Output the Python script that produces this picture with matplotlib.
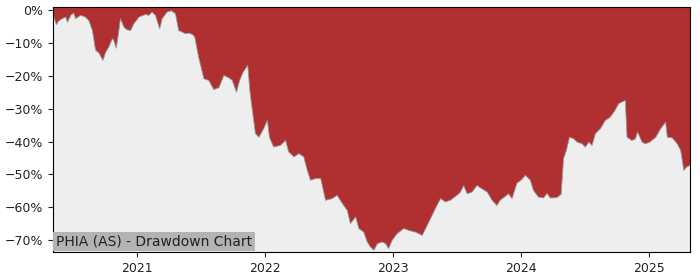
import pandas as pd
import numpy as np
import matplotlib
matplotlib.use("Agg")
import matplotlib.pyplot as plt
import matplotlib.dates as mdates
from matplotlib.ticker import FuncFormatter

# drawdown (percent below running peak)
dates = ["2020-05-06", "2020-05-14", "2020-05-22", "2020-05-31", "2020-06-10", "2020-06-15",
         "2020-06-24", "2020-07-03", "2020-07-08", "2020-07-22", "2020-08-05", "2020-08-15",
         "2020-08-25", "2020-09-03", "2020-09-13", "2020-09-24", "2020-10-02", "2020-10-11",
         "2020-10-21", "2020-10-25", "2020-11-01", "2020-11-06", "2020-11-13", "2020-11-23",
         "2020-12-02", "2020-12-12", "2020-12-21", "2021-01-05", "2021-01-24", "2021-02-02",
         "2021-02-11", "2021-02-21", "2021-03-05", "2021-03-12", "2021-03-26", "2021-04-07",
         "2021-04-19", "2021-04-28", "2021-05-08", "2021-05-18", "2021-05-27", "2021-06-06",
         "2021-06-13", "2021-06-24", "2021-07-09", "2021-07-23", "2021-08-06", "2021-08-21",
         "2021-09-04", "2021-09-18", "2021-09-28", "2021-10-10", "2021-10-19", "2021-10-29",
         "2021-11-11", "2021-11-17", "2021-11-19", "2021-12-03", "2021-12-13", "2021-12-27",
         "2022-01-06", "2022-01-12", "2022-01-24", "2022-02-12", "2022-02-27", "2022-03-08",
         "2022-03-23", "2022-04-06", "2022-04-20", "2022-04-30", "2022-05-09", "2022-05-23",
         "2022-06-07", "2022-06-21", "2022-07-10", "2022-07-24", "2022-08-08", "2022-08-22",
         "2022-08-31", "2022-09-15", "2022-09-24", "2022-10-08", "2022-10-18", "2022-10-27",
         "2022-11-06", "2022-11-16", "2022-11-30", "2022-12-09", "2022-12-18", "2022-12-28",
         "2023-01-11", "2023-01-30", "2023-02-14", "2023-03-05", "2023-03-24", "2023-04-07",
         "2023-04-21", "2023-04-30", "2023-05-15", "2023-05-29", "2023-06-12", "2023-07-01",
         "2023-07-11", "2023-07-20", "2023-07-30", "2023-08-13", "2023-08-27", "2023-09-10",
         "2023-09-25", "2023-10-09", "2023-10-23", "2023-11-01", "2023-11-16", "2023-11-25",
         "2023-12-05", "2023-12-19", "2024-01-02", "2024-01-12", "2024-01-26", "2024-02-04",
         "2024-02-18", "2024-03-04", "2024-03-14", "2024-03-23", "2024-04-11", "2024-04-23",
         "2024-04-30", "2024-05-08", "2024-05-17", "2024-05-29", "2024-06-08", "2024-06-22",
         "2024-07-01", "2024-07-11", "2024-07-20", "2024-07-30", "2024-08-13", "2024-08-27",
         "2024-09-10", "2024-09-24", "2024-10-04", "2024-10-23", "2024-10-28", "2024-11-11",
         "2024-11-21", "2024-11-27", "2024-12-10", "2024-12-19", "2025-01-01", "2025-01-18",
         "2025-02-01", "2025-02-15", "2025-02-20", "2025-03-06", "2025-03-20", "2025-03-30",
         "2025-04-08", "2025-04-16", "2025-04-27"]
drawdown = [-1.4, -4.2, -3.0, -2.4, -1.9, -3.5,
            -1.4, -0.7, -2.4, -1.4, -1.9, -3.0,
            -6.0, -12.0, -12.9, -15.1, -12.6, -11.0,
            -8.5, -9.0, -11.4, -8.0, -2.4, -5.0,
            -5.8, -6.0, -4.0, -1.9, -1.1, -1.4,
            -0.4, -1.4, -5.5, -2.4, -0.4, 0.0,
            -0.9, -6.0, -6.5, -7.0, -6.8, -7.2,
            -8.0, -14.1, -20.7, -21.2, -24.0, -23.4,
            -19.7, -20.4, -21.2, -24.8, -21.2, -18.7,
            -16.6, -24.0, -26.0, -37.4, -38.5, -35.8,
            -33.4, -38.5, -41.5, -41.0, -39.5, -43.0,
            -44.5, -43.5, -44.5, -48.6, -51.6, -51.1,
            -51.0, -57.7, -57.2, -56.2, -58.7, -60.8,
            -64.8, -62.8, -66.3, -67.4, -70.4, -71.9,
            -72.9, -70.9, -70.4, -70.9, -72.4, -69.9,
            -67.9, -66.3, -66.9, -67.4, -68.4, -65.3,
            -62.3, -60.3, -57.2, -58.2, -57.7, -56.2,
            -55.2, -53.2, -55.7, -55.2, -53.2, -54.2,
            -55.2, -57.7, -59.3, -57.7, -56.5, -55.7,
            -57.2, -52.5, -51.4, -50.1, -51.6, -54.7,
            -56.7, -57.0, -55.6, -57.0, -56.9, -55.9,
            -45.0, -42.5, -38.5, -39.0, -40.0, -40.5,
            -41.5, -40.0, -41.0, -37.4, -35.9, -33.4,
            -32.4, -30.3, -28.3, -27.3, -38.5, -39.5,
            -39.0, -36.9, -40.0, -40.5, -40.0, -38.5,
            -35.9, -33.9, -38.5, -38.7, -40.5, -42.5,
            -48.6, -47.6, -47.0]
title = "PHIA (AS) - Drawdown Chart"

x = pd.to_datetime(dates)
y = np.array(drawdown)

fig = plt.figure(figsize=(7, 2.8), dpi=100)
ax = fig.add_axes([0.0757, 0.1, 0.91, 0.875])
ax.set_facecolor("#b03031")
ymin = -73.6
ax.fill_between(x, y, ymin, color="#eeeeee", linewidth=0.6, edgecolor="#999999")
ax.set_xlim(x[0], x[-1])
ax.set_ylim(ymin, 1.0)

ax.yaxis.set_major_formatter(FuncFormatter(lambda v, p: f"{v:.0f}%".replace("-", "\u2212")))
ax.set_yticks(np.arange(-70, 1, 10))
ax.xaxis.set_major_locator(mdates.YearLocator())
ax.xaxis.set_major_formatter(mdates.DateFormatter("%Y"))
ax.tick_params(labelsize=9, colors="#222222")

ax.text(0.005, 0.015, title, transform=ax.transAxes, fontsize=10, color="#222222",
        ha="left", va="bottom",
        bbox=dict(facecolor="#b3b3b3", edgecolor="none", pad=2))

fig.savefig("out.png", dpi=100)
